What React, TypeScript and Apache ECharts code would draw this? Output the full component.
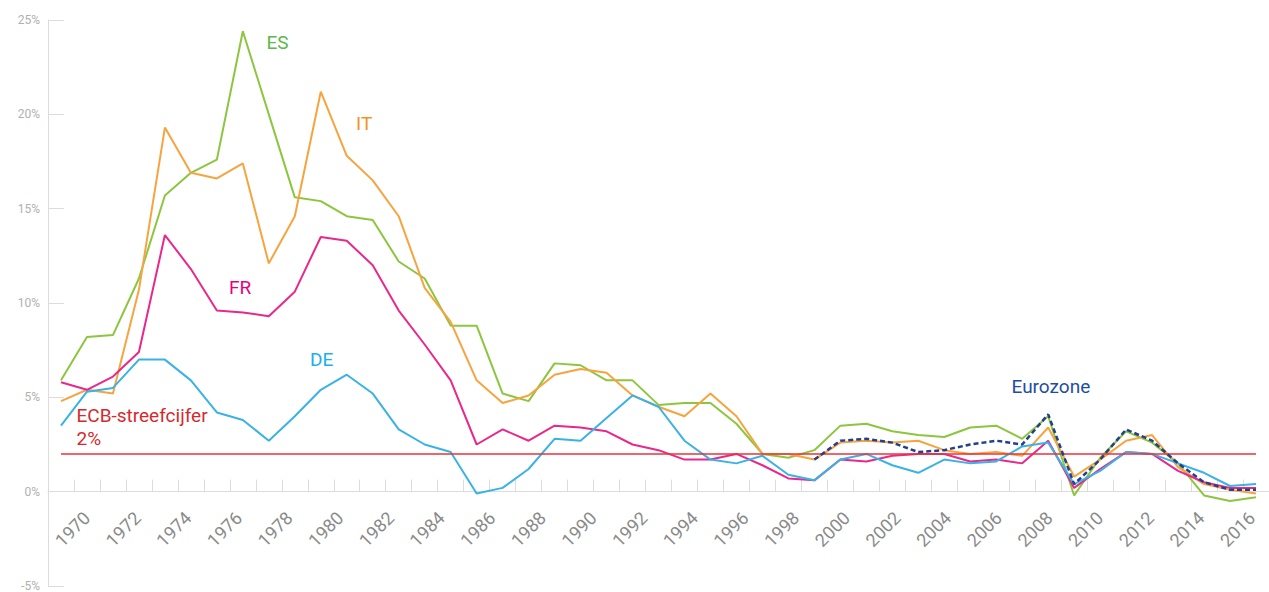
import React, { useEffect, useRef } from "react";
import * as echarts from "echarts";

const years: string[] = [
  "1970","1971","1972","1973","1974","1975","1976","1977","1978","1979",
  "1980","1981","1982","1983","1984","1985","1986","1987","1988","1989",
  "1990","1991","1992","1993","1994","1995","1996","1997","1998","1999",
  "2000","2001","2002","2003","2004","2005","2006","2007","2008","2009",
  "2010","2011","2012","2013","2014","2015","2016",
];

const labelYears: string[] = [
  "1970","1972","1974","1976","1978","1980","1982","1984","1986","1988","1990","1992",
  "1994","1996","1998","2000","2002","2004","2006","2008","2010","2012","2014","2016",
];

const yTicks = { min: -5, max: 25, interval: 5 };

const esValues: number[] = [
  5.9, 8.2, 8.3, 11.3, 15.7, 16.9, 17.6, 24.4, 20.0, 15.6,
  15.4, 14.6, 14.4, 12.2, 11.3, 8.8, 8.8, 5.2, 4.8, 6.8,
  6.7, 5.9, 5.9, 4.6, 4.7, 4.7, 3.6, 2.0, 1.8, 2.2,
  3.5, 3.6, 3.2, 3.0, 2.9, 3.4, 3.5, 2.8, 4.0, -0.2,
  1.8, 3.2, 2.6, 1.5, -0.2, -0.5, -0.3,
];

const itValues: number[] = [
  4.8, 5.4, 5.2, 10.7, 19.3, 16.9, 16.6, 17.4, 12.1, 14.6,
  21.2, 17.8, 16.5, 14.6, 10.8, 9.0, 5.9, 4.7, 5.1, 6.2,
  6.5, 6.3, 5.1, 4.5, 4.0, 5.2, 4.0, 2.0, 2.0, 1.7,
  2.6, 2.7, 2.6, 2.7, 2.2, 2.0, 2.1, 1.9, 3.4, 0.8,
  1.7, 2.7, 3.0, 1.3, 0.4, 0.1, -0.1,
];

const frValues: number[] = [
  5.8, 5.4, 6.1, 7.4, 13.6, 11.8, 9.6, 9.5, 9.3, 10.6,
  13.5, 13.3, 12.0, 9.6, 7.8, 5.9, 2.5, 3.3, 2.7, 3.5,
  3.4, 3.2, 2.5, 2.2, 1.7, 1.7, 2.0, 1.4, 0.7, 0.6,
  1.7, 1.6, 1.9, 2.0, 2.0, 1.6, 1.7, 1.5, 2.7, 0.2,
  1.2, 2.1, 2.0, 1.1, 0.5, 0.2, 0.2,
];

const deValues: number[] = [
  3.5, 5.3, 5.5, 7.0, 7.0, 5.9, 4.2, 3.8, 2.7, 4.0,
  5.4, 6.2, 5.2, 3.3, 2.5, 2.1, -0.1, 0.2, 1.2, 2.8,
  2.7, 3.9, 5.1, 4.5, 2.7, 1.7, 1.5, 1.9, 0.9, 0.6,
  1.7, 2.0, 1.4, 1.0, 1.7, 1.5, 1.6, 2.4, 2.6, 0.4,
  1.1, 2.1, 2.0, 1.5, 1.0, 0.3, 0.4,
];

const ezValues: (number | null)[] = [
  null, null, null, null, null, null, null, null, null, null,
  null, null, null, null, null, null, null, null, null, null,
  null, null, null, null, null, null, null, null, null, 1.7,
  2.7, 2.8, 2.6, 2.1, 2.2, 2.5, 2.7, 2.5, 4.1, 0.4,
  1.7, 3.3, 2.7, 1.5, 0.5, 0.1, 0.1,
];

const ecbTarget = 2;

const FONT = "Roboto, 'Noto Sans', sans-serif";

export default function App() {
  const ref = useRef<HTMLDivElement>(null);

  useEffect(() => {
    if (!ref.current) return;
    const chart = echarts.init(ref.current, undefined, { renderer: "svg" });

    const lineSeries = (name: string, data: (number | null)[], color: string, extra: any = {}) => ({
      name,
      type: "line",
      xAxisIndex: 0,
      yAxisIndex: 0,
      data,
      symbol: "none",
      smooth: false,
      connectNulls: false,
      lineStyle: { color, width: 2 },
      itemStyle: { color },
      ...extra,
    });

    const txt = (text: string, x: number, y: number, fill: string) => ({
      type: "text",
      x,
      y,
      silent: true,
      style: {
        text,
        fill,
        fontSize: 19,
        fontFamily: FONT,
        verticalAlign: "middle",
        align: "left",
      },
    });

    chart.setOption({
      animation: false,
      backgroundColor: "#ffffff",
      grid: [
        { left: 48, right: -6, top: 20, bottom: 0, containLabel: false },
        { left: 72.5, right: 31.5, top: 20, bottom: 97, containLabel: false },
      ],
      xAxis: [
        {
          type: "category",
          gridIndex: 0,
          data: years,
          boundaryGap: true,
          axisLine: { onZero: true, lineStyle: { color: "#dcdcdc", width: 1 } },
          axisTick: { show: true, inside: true, length: 12, interval: 0, lineStyle: { color: "#dcdcdc" } },
          axisLabel: { show: false },
          splitLine: { show: false },
        },
        {
          type: "category",
          gridIndex: 1,
          data: labelYears,
          boundaryGap: false,
          axisLine: { show: false, onZero: false },
          axisTick: { show: false },
          splitLine: { show: false },
          axisLabel: {
            interval: 0,
            rotate: 45,
            align: "center",
            verticalAlign: "middle",
            margin: 34,
            fontSize: 18,
            fontFamily: FONT,
            color: "#8a8a8a",
          },
        },
      ],
      yAxis: [
        {
          type: "value",
          gridIndex: 0,
          min: yTicks.min,
          max: yTicks.max,
          interval: yTicks.interval,
          axisLine: { show: true, lineStyle: { color: "#dcdcdc" } },
          axisTick: { show: true, inside: true, length: 16, lineStyle: { color: "#dcdcdc" } },
          splitLine: { show: false },
          axisLabel: {
            formatter: "{value}%",
            margin: 8,
            fontSize: 12,
            fontFamily: FONT,
            color: "#b0b0b0",
          },
        },
        {
          type: "value",
          gridIndex: 1,
          show: false,
          min: 0,
          max: 1,
        },
      ],
      series: [
        lineSeries("ES", esValues, "#8cc63f", {
          markLine: {
            silent: true,
            symbol: "none",
            label: { show: false },
            lineStyle: { color: "#e8333a", width: 1.5, type: "solid" },
            data: [[{ coord: [years[0], ecbTarget] }, { coord: [years[years.length - 1], ecbTarget] }]],
          },
        }),
        lineSeries("IT", itValues, "#f6a440"),
        lineSeries("FR", frValues, "#e8288a"),
        lineSeries("DE", deValues, "#3ab2e6"),
        lineSeries("Eurozone", ezValues, "#23408e", {
          lineStyle: { color: "#23408e", width: 2.5, type: [5, 3] },
          z: 5,
        }),
      ],
      graphic: [
        txt("ES", 266.5, 42.5, "#5cb847"),
        txt("IT", 356, 123.5, "#f39325"),
        txt("FR", 229, 287, "#e6007e"),
        txt("DE", 310, 359.5, "#1ab0e8"),
        txt("Eurozone", 1011.5, 386, "#1d4f9e"),
        txt("ECB-streefcijfer", 76.5, 415, "#d42a2e"),
        txt("2%", 76.5, 438.5, "#d42a2e"),
      ],
    });

    return () => chart.dispose();
  }, []);

  return (
    <div
      ref={ref}
      style={{ position: "absolute", left: 0, top: 0, width: 1269, height: 592 }}
    />
  );
}
